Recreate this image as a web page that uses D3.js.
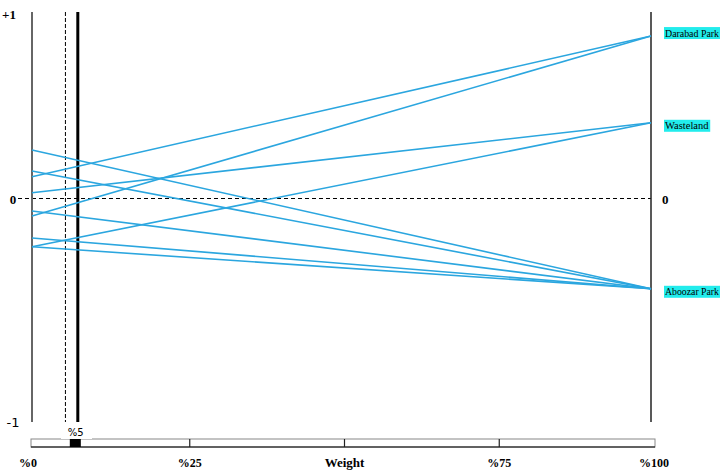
<!DOCTYPE html>
<html>
<head>
<meta charset="utf-8">
<script src="https://cdn.jsdelivr.net/npm/d3@7"></script>
<style>
  body { margin: 0; background: #fff; }
  text { font-family: "Liberation Serif", "DejaVu Serif", serif; }
</style>
</head>
<body>
<div class="container"></div>
<script>
// alternatives on the right axis and their value at weight 100%
const alternatives = ['Darabad Park', 'Wasteland', 'Aboozar Park'];
const rightValues = [0.871, 0.406, -0.404];

// each line: value at weight 0% and the alternative it ends at
const lineStarts = [0.26, 0.147, 0.117, 0.031, -0.056, -0.078, -0.177, -0.216, -0.216];
const lineEnds = ['Aboozar Park', 'Aboozar Park', 'Darabad Park', 'Wasteland', 'Aboozar Park',
                  'Darabad Park', 'Aboozar Park', 'Wasteland', 'Aboozar Park'];

const weightTicks = [0, 25, 50, 75, 100];
const weightLabels = ['%0', '%25', 'Weight', '%75', '%100'];
const originalWeight = 5.4;
const currentWeight = 7.4;
const currentLabel = '%5';

const yTicks = [1, 0, -1];
const yLabels = ['+1', '0', '-1'];

const width = 724;
const height = 473;
const lineColor = '#2ba6df';

const x = d3.scaleLinear().domain([0, 100]).range([32, 651]);
const y = d3.scaleLinear().domain([-1, 0, 1]).range([422, 198.5, 12]);

const svg = d3.select('.container')
    .append('svg')
    .attr('width', width)
    .attr('height', height);

// zero line
svg.append('line')
    .attr('x1', 18).attr('x2', x(100))
    .attr('y1', y(0)).attr('y2', y(0))
    .attr('stroke', '#000')
    .attr('stroke-width', 1)
    .attr('stroke-dasharray', '4,3');

// y labels on the left
svg.selectAll('.ylab')
    .data(yTicks)
    .enter()
    .append('text')
    .attr('class', 'ylab')
    .attr('x', (d, i) => i == 0 ? 9 : 13)
    .attr('y', d => y(d) + (d == 1 ? 7 : 5))
    .attr('text-anchor', 'middle')
    .style('font-size', '13px')
    .style('font-weight', (d, i) => i == 2 ? 'normal' : 'bold')
    .style('font-family', (d, i) => i == 2 ? 'DejaVu Sans, sans-serif' : null)
    .text((d, i) => yLabels[i]);

// left and right axes
svg.append('line')
    .attr('x1', x(0)).attr('x2', x(0))
    .attr('y1', y(1)).attr('y2', y(-1))
    .attr('stroke', '#666').attr('stroke-width', 2);

svg.append('line')
    .attr('x1', x(100)).attr('x2', x(100))
    .attr('y1', y(1)).attr('y2', y(-1))
    .attr('stroke', '#222').attr('stroke-width', 1.5);

// original weight (dashed) and current weight (thick)
svg.append('line')
    .attr('x1', x(originalWeight)).attr('x2', x(originalWeight))
    .attr('y1', y(1)).attr('y2', y(-1))
    .attr('stroke', '#000').attr('stroke-width', 1)
    .attr('stroke-dasharray', '4,2');

svg.append('line')
    .attr('x1', x(currentWeight)).attr('x2', x(currentWeight))
    .attr('y1', y(1)).attr('y2', y(-1))
    .attr('stroke', '#000').attr('stroke-width', 3);

// sensitivity lines
const rightOf = name => rightValues[alternatives.indexOf(name)];

svg.selectAll('.sens')
    .data(lineStarts)
    .enter()
    .append('line')
    .attr('class', 'sens')
    .attr('x1', x(0))
    .attr('y1', d => y(d))
    .attr('x2', x(100))
    .attr('y2', (d, i) => y(rightOf(lineEnds[i])))
    .attr('stroke', lineColor)
    .attr('stroke-width', 1.6);

// right side: zero label and alternative names
svg.append('text')
    .attr('x', 662).attr('y', y(0) + 5)
    .style('font-size', '13px')
    .style('font-weight', 'bold')
    .text('0');

const labelShift = [-3, 3, 3];

const labels = svg.selectAll('.alt')
    .data(alternatives)
    .enter()
    .append('g')
    .attr('class', 'alt')
    .attr('transform', (d, i) => `translate(664, ${y(rightValues[i]) + labelShift[i]})`);

labels.append('text')
    .attr('x', 1)
    .attr('y', 0)
    .attr('dy', '0.35em')
    .style('font-size', '10.5px')
    .text(d => d)
    .each(function() {
        const b = this.getBBox();
        if (b.width > 54) d3.select(this).attr('textLength', 54).attr('lengthAdjust', 'spacingAndGlyphs');
        const w = Math.min(b.width, 54);
        d3.select(this.parentNode).insert('rect', 'text')
            .attr('x', 0).attr('y', -6)
            .attr('width', w + 2).attr('height', 12)
            .attr('fill', '#22ecec');
    });

// weight bar at the bottom
const barTop = 439, barH = 8;
svg.append('rect')
    .attr('x', 31).attr('y', barTop)
    .attr('width', 655 - 31).attr('height', barH)
    .attr('fill', '#fff')
    .attr('stroke', '#888').attr('stroke-width', 1);

svg.append('line')
    .attr('x1', 31).attr('x2', 655)
    .attr('y1', barTop + barH).attr('y2', barTop + barH)
    .attr('stroke', '#000').attr('stroke-width', 1.2);

svg.selectAll('.wtick')
    .data(weightTicks.slice(1, 4))
    .enter()
    .append('line')
    .attr('class', 'wtick')
    .attr('x1', d => x(d) + 3).attr('x2', d => x(d) + 3)
    .attr('y1', barTop).attr('y2', barTop + barH)
    .attr('stroke', '#222').attr('stroke-width', 1.2);

// current weight marker
svg.append('rect')
    .attr('x', 61).attr('y', barTop - 2)
    .attr('width', 31).attr('height', 2)
    .attr('fill', '#fff');

svg.append('rect')
    .attr('x', x(currentWeight) - 8).attr('y', barTop)
    .attr('width', 11).attr('height', barH)
    .attr('fill', '#000');

svg.append('text')
    .attr('x', x(currentWeight) - 2)
    .attr('y', 436)
    .attr('text-anchor', 'middle')
    .style('font-size', '10px')
    .style('font-family', 'DejaVu Sans, sans-serif')
    .text(currentLabel);

svg.selectAll('.wlab')
    .data(weightTicks)
    .enter()
    .append('text')
    .attr('class', 'wlab')
    .attr('x', (d, i) => i == 0 ? 28 : x(d) + 3)
    .attr('y', 467)
    .attr('text-anchor', 'middle')
    .style('font-size', (d, i) => i == 2 ? '13px' : '12px')
    .style('font-weight', 'bold')
    .text((d, i) => weightLabels[i]);
</script>
</body>
</html>
